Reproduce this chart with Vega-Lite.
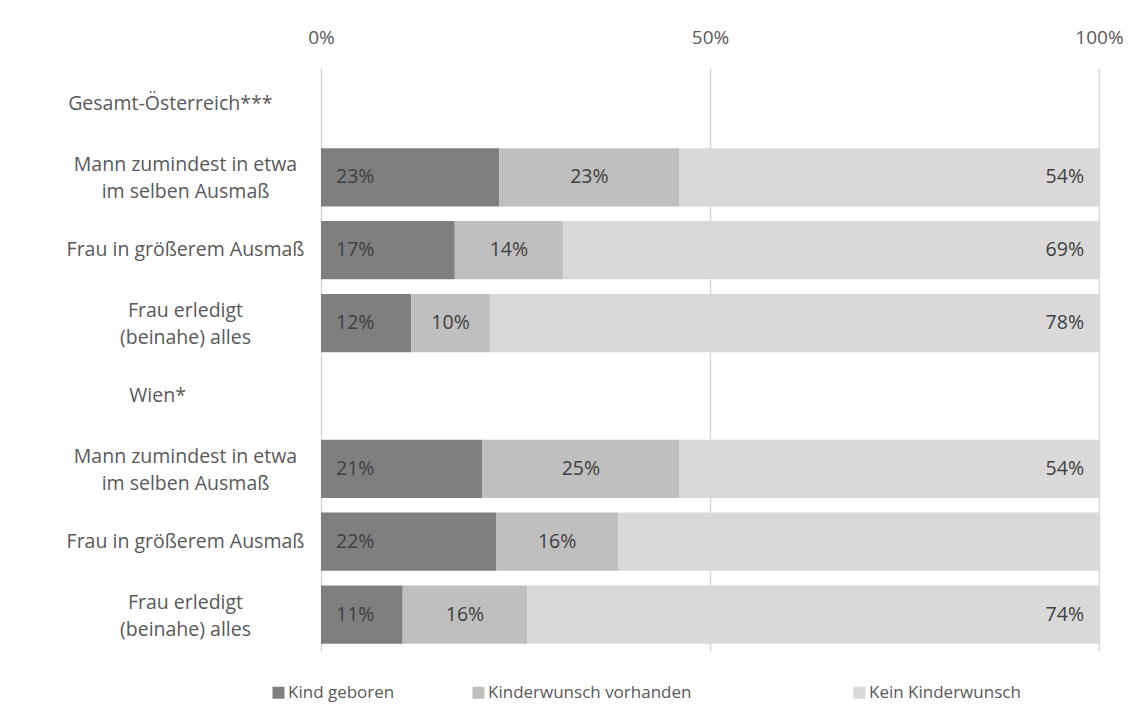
{
  "$schema": "https://vega.github.io/schema/vega-lite/v6.json",
  "width": 778,
  "height": 583,
  "autosize": {"type": "none"},
  "padding": {"left": 321, "top": 68, "right": 39, "bottom": 66},
  "background": "white",
  "config": {"font": "Open Sans", "view": {"stroke": null}},
  "data": {
    "values": [
      {"cat": "G|Mann zumindest in etwa|im selben Ausmaß", "series": "Kind geboren", "order": 1, "value": 22.9, "label": "23%"},
      {"cat": "G|Mann zumindest in etwa|im selben Ausmaß", "series": "Kinderwunsch vorhanden", "order": 2, "value": 23.2, "label": "23%"},
      {"cat": "G|Mann zumindest in etwa|im selben Ausmaß", "series": "Kein Kinderwunsch", "order": 3, "value": 53.9, "label": "54%"},
      {"cat": "G|Frau in größerem Ausmaß", "series": "Kind geboren", "order": 1, "value": 17.2, "label": "17%"},
      {"cat": "G|Frau in größerem Ausmaß", "series": "Kinderwunsch vorhanden", "order": 2, "value": 13.9, "label": "14%"},
      {"cat": "G|Frau in größerem Ausmaß", "series": "Kein Kinderwunsch", "order": 3, "value": 68.9, "label": "69%"},
      {"cat": "G|Frau erledigt|(beinahe) alles", "series": "Kind geboren", "order": 1, "value": 11.6, "label": "12%"},
      {"cat": "G|Frau erledigt|(beinahe) alles", "series": "Kinderwunsch vorhanden", "order": 2, "value": 10.1, "label": "10%"},
      {"cat": "G|Frau erledigt|(beinahe) alles", "series": "Kein Kinderwunsch", "order": 3, "value": 78.3, "label": "78%"},
      {"cat": "W|Mann zumindest in etwa|im selben Ausmaß", "series": "Kind geboren", "order": 1, "value": 20.7, "label": "21%"},
      {"cat": "W|Mann zumindest in etwa|im selben Ausmaß", "series": "Kinderwunsch vorhanden", "order": 2, "value": 25.4, "label": "25%"},
      {"cat": "W|Mann zumindest in etwa|im selben Ausmaß", "series": "Kein Kinderwunsch", "order": 3, "value": 53.9, "label": "54%"},
      {"cat": "W|Frau in größerem Ausmaß", "series": "Kind geboren", "order": 1, "value": 22.5, "label": "22%"},
      {"cat": "W|Frau in größerem Ausmaß", "series": "Kinderwunsch vorhanden", "order": 2, "value": 15.7, "label": "16%"},
      {"cat": "W|Frau in größerem Ausmaß", "series": "Kein Kinderwunsch", "order": 3, "value": 61.8, "label": ""},
      {"cat": "W|Frau erledigt|(beinahe) alles", "series": "Kind geboren", "order": 1, "value": 10.5, "label": "11%"},
      {"cat": "W|Frau erledigt|(beinahe) alles", "series": "Kinderwunsch vorhanden", "order": 2, "value": 16.0, "label": "16%"},
      {"cat": "W|Frau erledigt|(beinahe) alles", "series": "Kein Kinderwunsch", "order": 3, "value": 73.5, "label": "74%"}
    ]
  },
  "transform": [
    {"stack": "value", "groupby": ["cat"], "sort": [{"field": "order"}], "offset": "normalize", "as": ["v0", "v1"]},
    {"calculate": "(datum.v0 + datum.v1) / 2", "as": "mid"}
  ],
  "encoding": {
    "y": {
      "field": "cat",
      "type": "nominal",
      "sort": null,
      "scale": {
        "domain": [
          "Gesamt-Österreich***",
          "G|Mann zumindest in etwa|im selben Ausmaß",
          "G|Frau in größerem Ausmaß",
          "G|Frau erledigt|(beinahe) alles",
          "Wien*",
          "W|Mann zumindest in etwa|im selben Ausmaß",
          "W|Frau in größerem Ausmaß",
          "W|Frau erledigt|(beinahe) alles"
        ],
        "paddingInner": 0.2,
        "paddingOuter": 0.1
      },
      "axis": {
        "title": null,
        "orient": "left",
        "domain": false,
        "ticks": false,
        "tickSize": 0,
        "labelPadding": 136,
        "labelAlign": "center",
        "labelBaseline": "middle",
        "labelFontSize": 19.5,
        "labelColor": "#595959",
        "labelLineHeight": 27,
        "labelLimit": 0,
        "labelOffset": {"condition": {"test": "length(split(datum.label, '|')) > 2", "value": -12}, "value": 0},
        "labelExpr": "datum.label == 'Gesamt-Österreich***' ? pad(datum.label, 26, '\u00a0') + '\u200b' : datum.label == 'Wien*' ? pad(datum.label, 16, '\u00a0') + '\u200b' : slice(split(datum.label, '|'), 1)"
      }
    }
  },
  "layer": [
    {
      "mark": {"type": "bar"},
      "encoding": {
        "x": {
          "field": "v0",
          "type": "quantitative",
          "scale": {"domain": [0, 1], "nice": false},
          "axis": {
            "title": null,
            "orient": "top",
            "values": [0, 0.5, 1],
            "format": ".0%",
            "grid": true,
            "gridColor": "#d9d9d9",
            "gridWidth": 1.5,
            "domain": false,
            "ticks": false,
            "tickSize": 0,
            "labelPadding": 21,
            "labelFontSize": 19,
            "labelColor": "#595959",
            "labelFlush": false
          }
        },
        "x2": {"field": "v1"},
        "color": {
          "field": "series",
          "type": "nominal",
          "scale": {
            "domain": ["Kind geboren", "Kinderwunsch vorhanden", "Kein Kinderwunsch"],
            "range": ["#7f7f7f", "#bfbfbf", "#d9d9d9"]
          },
          "legend": {
            "title": null,
            "orient": "none",
            "direction": "horizontal",
            "legendX": -51,
            "legendY": 616,
            "padding": 0,
            "columnPadding": 0,
            "symbolType": "square",
            "symbolSize": 144,
            "symbolStrokeWidth": 0,
            "symbolOpacity": 1,
            "labelFontSize": 17,
            "labelColor": "#595959",
            "labelOffset": 1,
            "labelLimit": 0,
            "labelExpr": "datum.label == 'Kind geboren' ? pad(datum.label, 29, '\u00a0') + '\u200b' : datum.label == 'Kinderwunsch vorhanden' ? pad(datum.label, 58, '\u00a0') + '\u200b' : datum.label"
          }
        }
      }
    },
    {
      "transform": [{"filter": "datum.series == 'Kind geboren'"}],
      "mark": {"type": "text", "align": "left", "baseline": "middle", "dx": 15, "fontSize": 19.5, "color": "#404040"},
      "encoding": {"x": {"field": "v0", "type": "quantitative"}, "text": {"field": "label"}}
    },
    {
      "transform": [{"filter": "datum.series == 'Kinderwunsch vorhanden'"}],
      "mark": {"type": "text", "align": "center", "baseline": "middle", "fontSize": 19.5, "color": "#404040"},
      "encoding": {"x": {"field": "mid", "type": "quantitative"}, "text": {"field": "label"}}
    },
    {
      "transform": [{"filter": "datum.series == 'Kein Kinderwunsch'"}],
      "mark": {"type": "text", "align": "right", "baseline": "middle", "dx": -15, "fontSize": 19.5, "color": "#404040"},
      "encoding": {"x": {"field": "v1", "type": "quantitative"}, "text": {"field": "label"}}
    }
  ]
}
